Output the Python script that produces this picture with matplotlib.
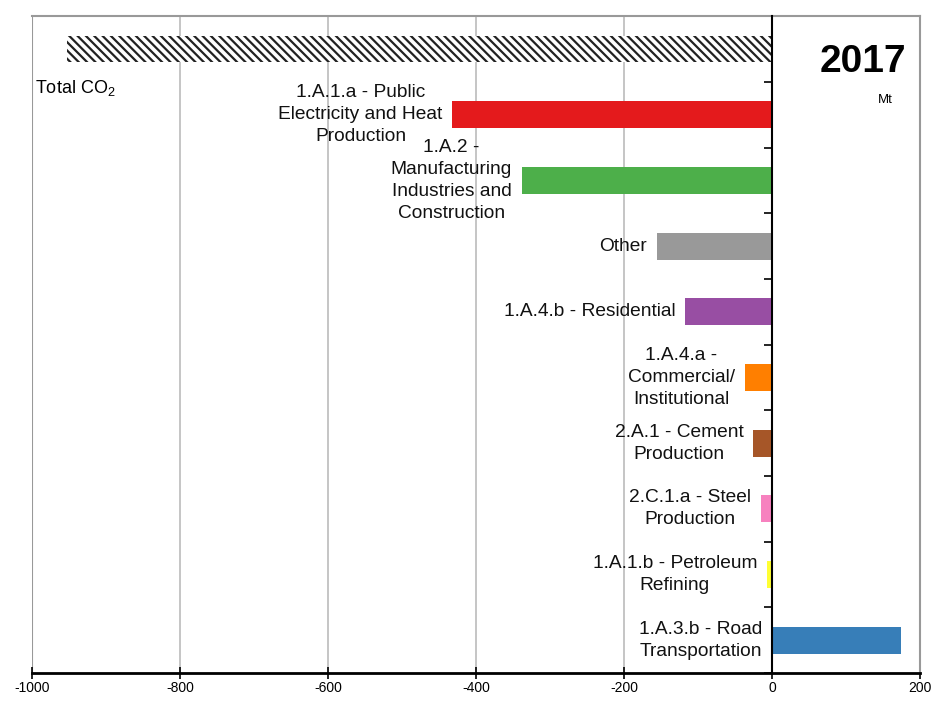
import matplotlib.pyplot as plt

plt.rcParams['font.family'] = ['Liberation Sans', 'DejaVu Sans']
plt.rcParams['mathtext.fontset'] = 'custom'
plt.rcParams['mathtext.rm'] = 'Liberation Sans'
plt.rcParams['hatch.linewidth'] = 1.6

# data (Mt CO2, 2017)
labels = ['Total CO$_2$',
          '1.A.1.a - Public\nElectricity and Heat\nProduction',
          '1.A.2 -\nManufacturing\nIndustries and\nConstruction',
          'Other',
          '1.A.4.b - Residential',
          '1.A.4.a -\nCommercial/\nInstitutional',
          '2.A.1 - Cement\nProduction',
          '2.C.1.a - Steel\nProduction',
          '1.A.1.b - Petroleum\nRefining',
          '1.A.3.b - Road\nTransportation']
values = [-953, -432, -338, -156, -117, -37, -25, -15, -7, 174]
colors = ['white', '#e41a1c', '#4daf4a', '#999999', '#984ea3',
          '#ff7f00', '#a65628', '#f781bf', '#ffff33', '#377eb8']
year = '2017'
xticks = [-1000, -800, -600, -400, -200, 0, 200]

fig = plt.figure(figsize=(9.33, 7.02), dpi=100)
ax = fig.add_axes([0.0343, 0.0413, 0.9517, 0.9357])

y = list(range(len(values)))
bars = ax.barh(y, values, height=0.41, color=colors, linewidth=0, zorder=3)
bars[0].set_hatch('\\\\\\\\')
bars[0].set_edgecolor('#222222')

ax.set_xlim(-1000, 200)
ax.set_ylim(len(values) - 0.5, -0.5)

# gridlines
for v in xticks[1:5]:
    ax.axvline(v, color='#bbbbbb', lw=1.2, zorder=1)
ax.axvline(-1000, color='#999999', lw=1.5, zorder=1)

# labels
ax.text(-996, 0.6, labels[0], ha='left', va='center', fontsize=13, zorder=4)
for i in range(1, len(values)):
    ax.annotate(labels[i], xy=(min(values[i], 0), i), xytext=(-7, 0),
                textcoords='offset points', ha='right', va='center',
                multialignment='center', fontsize=13.8, linespacing=1.38,
                color='#111111', zorder=4)

ax.text(0.985, 0.93, year, transform=ax.transAxes, ha='right', va='center',
        fontsize=28, fontweight='bold')
ax.text(0.9696, 0.873, 'Mt', transform=ax.transAxes, ha='right', va='center',
        fontsize=9.5)

# axes styling
ax.spines['left'].set_position(('data', 0))
ax.spines['left'].set_color('black')
ax.spines['left'].set_linewidth(1.5)
ax.spines['left'].set_zorder(5)
ax.spines['top'].set_color('#999999')
ax.spines['top'].set_linewidth(1.5)
ax.spines['right'].set_color('#999999')
ax.spines['right'].set_linewidth(1.5)
ax.spines['bottom'].set_color('black')
ax.spines['bottom'].set_linewidth(2)

ax.set_yticks([i + 0.5 for i in range(len(values))])
ax.set_yticklabels([])
ax.tick_params(axis='y', direction='out', length=6, width=1.2, color='black')
ax.set_xticks(xticks)
ax.set_xticklabels([str(t) for t in xticks], fontsize=10)
ax.tick_params(axis='x', direction='inout', length=8, width=1.2, pad=2)

fig.savefig('out.png', dpi=100)
